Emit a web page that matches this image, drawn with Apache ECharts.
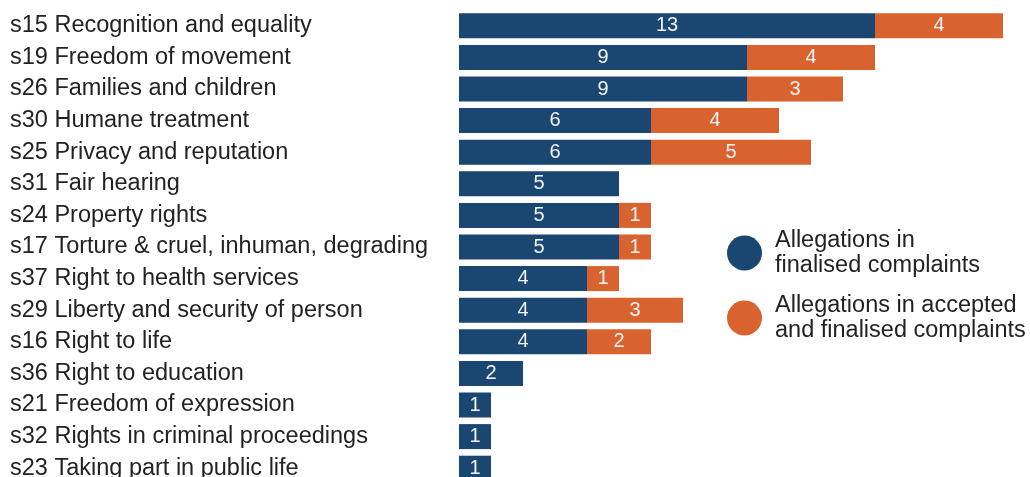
<!DOCTYPE html>
<html>
<head>
<meta charset="utf-8">
<script src="https://cdn.jsdelivr.net/npm/echarts@6/dist/echarts.min.js"></script>
<style>
html,body{margin:0;padding:0;background:#fff;}
#c{width:1030px;height:477px;}
</style>
</head>
<body>
<div id="c"></div>
<script>
const categories = [
  's15 Recognition and equality',
  's19 Freedom of movement',
  's26 Families and children',
  's30 Humane treatment',
  's25 Privacy and reputation',
  's31 Fair hearing',
  's24 Property rights',
  's17 Torture & cruel, inhuman, degrading',
  's37 Right to health services',
  's29 Liberty and security of person',
  's16 Right to life',
  's36 Right to education',
  's21 Freedom of expression',
  's32 Rights in criminal proceedings',
  's23 Taking part in public life'
];
const finalised = [13, 9, 9, 6, 6, 5, 5, 5, 4, 4, 4, 2, 1, 1, 1];
const accepted = [4, 4, 3, 4, 5, 0, 1, 1, 1, 3, 2, 0, 0, 0, 0];
const seriesNames = ['Allegations in\nfinalised complaints', 'Allegations in accepted\nand finalised complaints'];

const FONT = '"Liberation Sans", Arial, sans-serif';
const chart = echarts.init(document.getElementById('c'), null, {renderer: 'canvas'});
const labelCfg = {
  show: true,
  position: 'inside',
  color: '#f2f2f2',
  fontSize: 20,
  fontFamily: FONT,
  formatter: p => (p.value ? String(p.value) : '')
};
chart.setOption({
  animation: false,
  backgroundColor: '#fff',
  grid: {left: 459, width: 544, top: 10, height: 474, containLabel: false, outerBoundsMode: 'none'},
  xAxis: {
    type: 'value', min: 0, max: 17,
    show: false
  },
  yAxis: {
    type: 'category',
    data: categories,
    inverse: true,
    axisLine: {show: false},
    axisTick: {show: false},
    axisLabel: {
      interval: 0,
      align: 'left',
      margin: 449,
      color: '#222',
      fontSize: 23.5,
      fontFamily: FONT
    }
  },
  legend: {
    orient: 'vertical',
    left: 727,
    top: 226,
    padding: 0,
    icon: 'circle',
    itemWidth: 35,
    itemHeight: 35,
    itemGap: 11,
    textStyle: {
      color: '#222',
      fontSize: 23.5,
      lineHeight: 25,
      fontFamily: FONT,
      padding: [4, 0, 0, 8]
    },
    data: seriesNames
  },
  series: [
    {
      name: seriesNames[0],
      type: 'bar',
      stack: 'total',
      barWidth: 25,
      itemStyle: {color: '#1a4672'},
      label: labelCfg,
      data: finalised
    },
    {
      name: seriesNames[1],
      type: 'bar',
      stack: 'total',
      barWidth: 25,
      itemStyle: {color: '#d8632f'},
      label: labelCfg,
      data: accepted
    }
  ]
});
</script>
</body>
</html>
